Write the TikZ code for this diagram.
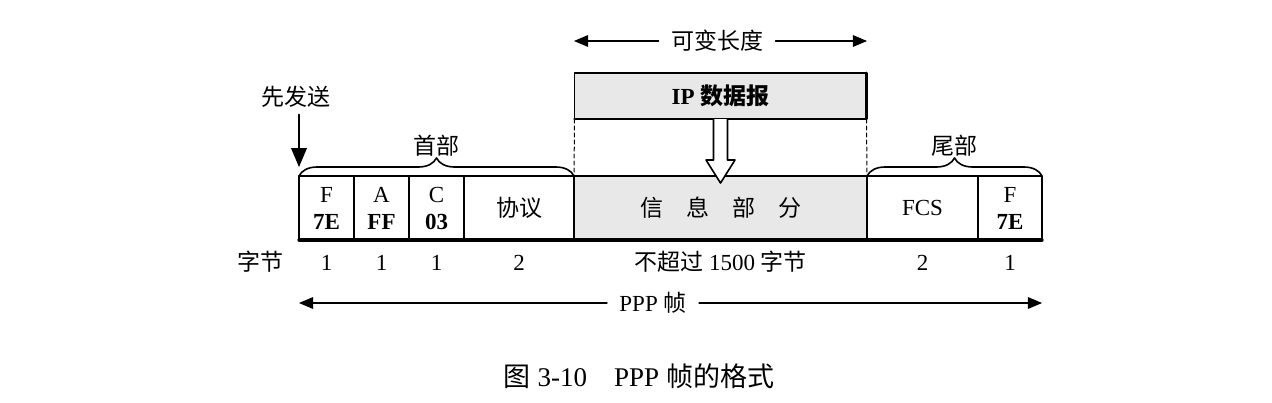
\documentclass[tikz,border=0pt]{standalone}
\usepackage{fontspec}
\setmainfont{Liberation Serif}
\newfontfamily\cjk{Noto Sans CJK SC}
\usetikzlibrary{arrows,positioning,decorations.pathreplacing}

\begin{document}
\begin{tikzpicture}[x=0.5pt,y=-0.5pt,line cap=round,line join=round,>=triangle 45,
        font=\fontsize{11.5pt}{13.5pt}\selectfont,
        cell/.style={draw,line width=0.8pt,minimum height=32pt,inner sep=0pt,outer sep=0pt,align=center},
        num/.style={inner sep=2pt,text height=8pt,text depth=2pt},
        dimlabel/.style={inner sep=6pt},
        hbrace/.style={decorate,decoration={brace,amplitude=9pt},line width=0.8pt}]
        \useasboundingbox (0,0) rectangle (1272,402);
        % frame fields
        \node[cell,minimum width=27.5pt,anchor=west] (F) at (299,208) {F\\\textbf{7E}};
        \node[cell,minimum width=27.5pt,right=0pt of F] (A) {A\\\textbf{FF}};
        \node[cell,minimum width=27.5pt,right=0pt of A] (C) {C\\\textbf{03}};
        \node[cell,minimum width=55pt,right=0pt of C] (proto) {{\cjk 协议}};
        \node[cell,minimum width=146.5pt,fill=gray!18,right=0pt of proto] (info) {{\cjk 信\quad 息\quad 部\quad 分}};
        \node[cell,minimum width=55.5pt,right=0pt of info] (fcs) {FCS};
        \node[cell,minimum width=32pt,right=0pt of fcs] (F2) {F\\\textbf{7E}};
        \draw[line width=1.6pt] (F.south west) -- (F2.south east);
        % IP datagram
        \node[cell,minimum width=146pt,minimum height=23pt,fill=gray!18,above=28.5pt of info] (ip) {\textbf{IP} {\cjk\bfseries 数据报}};
        \draw[line width=1.4pt] (ip.north east) -- (ip.south east) -- (ip.south west);
        \draw[dash pattern=on 2pt off 1.5pt,line width=0.5pt] (ip.south west) -- (info.north west);
        \draw[dash pattern=on 2pt off 1.5pt,line width=0.5pt] (ip.south east) -- (info.north east);
        \draw[fill=white,line width=0.8pt] ([xshift=-3.5pt]ip.south) -- ++(0,41) -- ++(-7.5,0) -- ++(14.5,23) -- ++(14.5,-23) -- ++(-7.5,0) -- ++(0,-41);
        \node[dimlabel] (var) at (717,41) {{\cjk 可变长度}};
        \draw[->,line width=0.6pt] (var) -- (info.west |- var);
        \draw[->,line width=0.6pt] (var) -- (info.east |- var);
        % braces
        \draw[hbrace] (F.north west) -- (proto.north east) node[midway,above=6pt] {{\cjk 首部}};
        \draw[hbrace] (fcs.north west) -- (F2.north east) node[midway,above=6pt] {{\cjk 尾部}};
        % first sent
        \node (send) at (296,97) {{\cjk 先发送}};
        \draw[->,line width=1.2pt] (send.south -| F.west) -- ([yshift=4.5pt]F.north west);
        % byte counts
        \node[num,below=5pt of F] (nF) {1};
        \node[num,below=5pt of A] (nA) {1};
        \node[num,below=5pt of C] (nC) {1};
        \node[num,below=5pt of proto] (nproto) {2};
        \node[num,below=5pt of info] (ninfo) {{\cjk 不超过} 1500 {\cjk 字节}};
        \node[num,below=5pt of fcs] (nfcs) {2};
        \node[num,below=5pt of F2] (nF2) {1};
        \node[num,left=14pt of nF] (bytes) {{\cjk 字节}};
        % whole frame
        \node[dimlabel] (ppp) at (653,303) {PPP {\cjk 帧}};
        \draw[->,line width=0.6pt] (ppp) -- (F.west |- ppp);
        \draw[->,line width=0.6pt] (ppp) -- (F2.east |- ppp);
        \node[font=\fontsize{13.5pt}{16pt}\selectfont] (caption) at (639,376) {{\cjk 图} 3-10\quad PPP {\cjk 帧的格式}};
\end{tikzpicture}
\end{document}
